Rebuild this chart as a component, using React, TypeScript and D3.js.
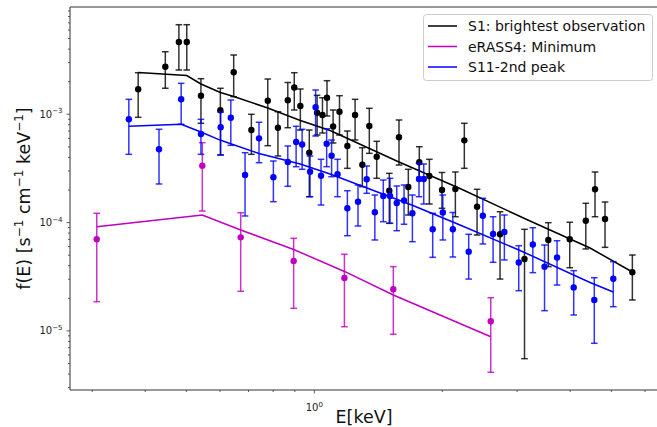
import React from 'react';
import * as d3 from 'd3';

// ---------- data (E in keV, f in s^-1 cm^-1 keV^-1) ----------
const s1E = [0.385, 0.446, 0.480, 0.501, 0.541, 0.601, 0.646, 0.711, 0.777, 0.821, 0.866, 0.897, 0.927, 0.973, 1.015, 1.045, 1.071, 1.107, 1.146, 1.196, 1.247, 1.297, 1.347, 1.402, 1.501, 1.582, 1.664, 1.766, 1.865, 1.997, 2.147, 2.254, 2.415, 2.735, 3.123, 3.553, 3.99, 4.353, 4.576, 4.831, 5.602];
const s1F = [1.701e-3, 2.751e-3, 4.652e-3, 4.652e-3, 1.485e-3, 1.089e-3, 2.442e-3, 0.716e-3, 1.335e-3, 0.752e-3, 1.349e-3, 1.768e-3, 1.193e-3, 0.442e-3, 1.035e-3, 0.985e-3, 1.423e-3, 0.772e-3, 1.057e-3, 0.510e-3, 0.985e-3, 0.3424e-3, 0.780e-3, 0.406e-3, 0.197e-3, 0.613e-3, 0.2132e-3, 0.3603e-3, 0.2693e-3, 0.200e-3, 0.2043e-3, 0.575e-3, 0.1402e-3, 0.078e-3, 0.0461e-3, 0.0691e-3, 0.0701e-3, 0.1041e-3, 0.203e-3, 0.1079e-3, 0.0348e-3];
const s1Hi = [2.421e-3, 3.784e-3, 6.72e-3, 6.72e-3, 2.132e-3, 1.739e-3, 3.528e-3, 1.0e-3, 2.118e-3, 1.057e-3, 1.966e-3, 2.421e-3, 1.713e-3, 0.716e-3, 1.498e-3, 1.423e-3, 2.043e-3, 1.096e-3, 1.485e-3, 0.701e-3, 1.375e-3, 0.4915e-3, 1.136e-3, 0.563e-3, 0.285e-3, 0.886e-3, 0.3105e-3, 0.502e-3, 0.3841e-3, 0.2902e-3, 0.2933e-3, 0.826e-3, 0.203e-3, 0.126e-3, 0.0867e-3, 0.0998e-3, 0.1007e-3, 0.1507e-3, 0.2933e-3, 0.1549e-3, 0.0502e-3];
const s1Lo = [0.938e-3, 1.739e-3, 2.565e-3, 2.565e-3, 0.826e-3, 0.421e-3, 1.454e-3, 0.427e-3, 0.513e-3, 0.412e-3, 0.752e-3, 1.096e-3, 0.716e-3, 0.1734e-3, 0.644e-3, 0.672e-3, 0.965e-3, 0.543e-3, 0.644e-3, 0.317e-3, 0.579e-3, 0.2146e-3, 0.436e-3, 0.2564e-3, 0.0985e-3, 0.340e-3, 0.1175e-3, 0.2564e-3, 0.1485e-3, 0.1355e-3, 0.1133e-3, 0.317e-3, 0.0768e-3, 0.0301e-3, 0.00554e-3, 0.0392e-3, 0.0383e-3, 0.0571e-3, 0.1133e-3, 0.0591e-3, 0.0193e-3];
const s1ModelE = [0.385, 0.501, 0.541, 0.601, 0.646, 0.777, 0.927, 1.089, 1.582, 2.202, 3.123, 4.454, 5.602];
const s1ModelF = [2.432e-3, 2.282e-3, 1.905e-3, 1.590e-3, 1.46e-3, 1.143e-3, 0.877e-3, 0.7085e-3, 0.3627e-3, 0.2064e-3, 0.1091e-3, 0.0583e-3, 0.035e-3];

const eE = [0.3076, 0.545, 0.671, 0.894, 1.177, 1.534, 2.601];
const eF = [7.01e-5, 3.353e-4, 7.31e-5, 4.418e-5, 3.08e-5, 2.422e-5, 1.226e-5];
const eHi = [1.219e-4, 5.468e-4, 1.234e-4, 7.16e-5, 5.097e-5, 3.92e-5, 2.026e-5];
const eLo = [1.861e-5, 1.279e-4, 2.32e-5, 1.617e-5, 1.093e-5, 9.30e-6, 4.147e-6];
const eModelE = [0.3076, 0.545, 0.671, 0.894, 1.177, 1.534, 2.601];
const eModelF = [9.165e-5, 1.175e-4, 8.545e-5, 5.645e-5, 3.54e-5, 2.145e-5, 8.84e-6];

const s11E = [0.366, 0.431, 0.486, 0.541, 0.602, 0.636, 0.687, 0.741, 0.801, 0.866, 0.906, 0.936, 0.977, 1.007, 1.037, 1.069, 1.098, 1.134, 1.196, 1.267, 1.328, 1.388, 1.453, 1.507, 1.563, 1.626, 1.701, 1.763, 1.809, 1.899, 2.006, 2.118, 2.308, 2.492, 2.634, 2.800, 3.027, 3.267, 3.481, 3.725, 4.077, 4.558, 5.052];
const s11F = [0.899e-3, 0.475e-3, 1.375e-3, 0.658e-3, 0.759e-3, 0.930e-3, 0.2751e-3, 0.600e-3, 0.2626e-3, 0.3627e-3, 0.555e-3, 0.526e-3, 0.2951e-3, 1.163e-3, 0.2705e-3, 0.535e-3, 0.4147e-3, 0.2793e-3, 0.1355e-3, 0.1556e-3, 0.2511e-3, 0.1245e-3, 0.176e-3, 0.176e-3, 0.1517e-3, 0.160e-3, 0.1219e-3, 0.2527e-3, 0.2527e-3, 0.0867e-3, 0.124e-3, 0.0867e-3, 0.0539e-3, 0.1158e-3, 0.0785e-3, 0.0819e-3, 0.0428e-3, 0.0628e-3, 0.0392e-3, 0.0476e-3, 0.0252e-3, 0.0193e-3, 0.0303e-3];
const s11Hi = [1.375e-3, 0.727e-3, 1.932e-3, 0.899e-3, 1.05e-3, 1.355e-3, 0.442e-3, 0.844e-3, 0.3705e-3, 0.510e-3, 0.775e-3, 0.727e-3, 0.412e-3, 1.676e-3, 0.3841e-3, 0.736e-3, 0.579e-3, 0.3841e-3, 0.197e-3, 0.2224e-3, 0.3332e-3, 0.1798e-3, 0.2474e-3, 0.2564e-3, 0.2178e-3, 0.2224e-3, 0.1798e-3, 0.3528e-3, 0.3476e-3, 0.1219e-3, 0.1798e-3, 0.124e-3, 0.078e-3, 0.1677e-3, 0.1133e-3, 0.1175e-3, 0.0612e-3, 0.0897e-3, 0.0621e-3, 0.068e-3, 0.036e-3, 0.031e-3, 0.0436e-3];
const s11Lo = [0.427e-3, 0.2273e-3, 0.809e-3, 0.427e-3, 0.421e-3, 0.517e-3, 0.1151e-3, 0.3573e-3, 0.156e-3, 0.2164e-3, 0.3282e-3, 0.3105e-3, 0.1734e-3, 0.630e-3, 0.1454e-3, 0.3282e-3, 0.2653e-3, 0.1734e-3, 0.0757e-3, 0.0930e-3, 0.1864e-3, 0.0691e-3, 0.1019e-3, 0.0985e-3, 0.0842e-3, 0.0965e-3, 0.0666e-3, 0.1734e-3, 0.1485e-3, 0.0478e-3, 0.0691e-3, 0.0481e-3, 0.0301e-3, 0.0635e-3, 0.043e-3, 0.0452e-3, 0.0235e-3, 0.0345e-3, 0.01537e-3, 0.0265e-3, 0.01402e-3, 0.00768e-3, 0.01673e-3];
const s11ModelE = [0.366, 0.486, 0.541, 0.602, 0.741, 0.926, 1.089, 1.695, 2.202, 3.048, 4.454, 5.052];
const s11ModelF = [0.775e-3, 0.809e-3, 0.6865e-3, 0.575e-3, 0.4345e-3, 0.3476e-3, 0.281e-3, 0.1454e-3, 0.095e-3, 0.0553e-3, 0.028e-3, 0.02287e-3];

const seriesNames = ['S1: brightest observation', 'eRASS4: Minimum', 'S11-2nd peak'];
const seriesColors = ['#000000', '#bf00bf', '#0000ff'];

const xLimits = [0.2661, 6.507];
const yLimits = [2.846e-6, 9.79e-3];
const xMajorTicks = [1];
const yMajorTicks = [1e-5, 1e-4, 1e-3];
const yMajorExp = ['−5', '−4', '−3'];

const FONT = 'DejaVu Sans, sans-serif';

export default function App() {
  const W = 657, H = 427;
  const L = 70, T = 7, R = 660, B = 390;
  const x = d3.scaleLog().domain(xLimits).range([L, R]);
  const y = d3.scaleLog().domain(yLimits).range([B, T]);
  const line = d3.line<[number, number]>().x(d => x(d[0])).y(d => y(d[1]));

  const series = [
    { E: s1E, F: s1F, hi: s1Hi, lo: s1Lo, mE: s1ModelE, mF: s1ModelF },
    { E: eE, F: eF, hi: eHi, lo: eLo, mE: eModelE, mF: eModelF },
    { E: s11E, F: s11F, hi: s11Hi, lo: s11Lo, mE: s11ModelE, mF: s11ModelF },
  ].map((s, i) => ({ ...s, name: seriesNames[i], color: seriesColors[i] }));

  // minor ticks
  const xMinor: number[] = [];
  for (let k = -1; k <= 0; k++) for (let m = 2; m <= 9; m++) {
    const v = m * Math.pow(10, k);
    if (v >= xLimits[0] && v <= xLimits[1]) xMinor.push(v);
  }
  const yMinor: number[] = [];
  for (let k = -6; k <= -3; k++) for (let m = 2; m <= 9; m++) {
    const v = m * Math.pow(10, k);
    if (v >= yLimits[0] && v <= yLimits[1]) yMinor.push(v);
  }

  const cap = 3.3;
  const legendY = [26, 46.5, 67];

  return (
    <svg width={W} height={H} style={{ position: 'absolute', left: 0, top: 0, background: '#fff' }} fontFamily={FONT}>
      <rect x={0} y={0} width={W} height={H} fill="#fff" />
      {/* series */}
      {series.map((s, si) => (
        <g key={si}>
          <path d={line(s.mE.map((e, i) => [e, s.mF[i]] as [number, number])) || ''} fill="none" stroke={s.color} strokeWidth={1.5} />
          {s.E.map((e, i) => {
            const cx = x(e);
            return (
              <g key={i} stroke={s.color} strokeWidth={1.5} strokeOpacity={0.8}>
                <line x1={cx} x2={cx} y1={y(s.hi[i])} y2={y(s.lo[i])} />
                <line x1={cx - cap} x2={cx + cap} y1={y(s.hi[i])} y2={y(s.hi[i])} />
                <line x1={cx - cap} x2={cx + cap} y1={y(s.lo[i])} y2={y(s.lo[i])} />
              </g>
            );
          })}
          {s.E.map((e, i) => (
            <circle key={'c' + i} cx={x(e)} cy={y(s.F[i])} r={3.2} fill={s.color} />
          ))}
        </g>
      ))}

      {/* axes frame */}
      <g stroke="#333" strokeWidth={1} fill="none">
        <line x1={L} x2={L} y1={T} y2={B} />
        <line x1={L} x2={R} y1={T} y2={T} />
        <line x1={L} x2={R} y1={B} y2={B} />
        <line x1={R} x2={R} y1={T} y2={B} />
      </g>

      {/* ticks */}
      <g stroke="#333" strokeWidth={0.8}>
        {xMajorTicks.map((t, i) => <line key={'xM' + i} x1={x(t)} x2={x(t)} y1={B} y2={B + 3.5} />)}
        {xMinor.map((t, i) => <line key={'xm' + i} x1={x(t)} x2={x(t)} y1={B} y2={B + 2} />)}
        {yMajorTicks.map((t, i) => <line key={'yM' + i} x1={L - 3.5} x2={L} y1={y(t)} y2={y(t)} />)}
        {yMinor.map((t, i) => <line key={'ym' + i} x1={L - 2} x2={L} y1={y(t)} y2={y(t)} />)}
      </g>
      {xMajorTicks.map((t, i) => (
        <text key={'xl' + i} x={x(t)} y={411} fontSize={10} textAnchor="middle" fill="#222">
          10<tspan dy={-4.5} fontSize={7}>0</tspan>
        </text>
      ))}
      {yMajorTicks.map((t, i) => (
        <text key={'yl' + i} x={62.5} y={y(t) + 3.6} fontSize={10} textAnchor="end" fill="#222">
          10<tspan dy={-4.5} fontSize={7}>{yMajorExp[i]}</tspan>
        </text>
      ))}

      {/* axis labels */}
      <text x={364} y={422.5} fontSize={17.5} textAnchor="middle" fill="#111">E[keV]</text>
      <text transform="translate(29.5,198.5) rotate(-90)" fontSize={17.5} textAnchor="middle" fill="#111">
        f(E) [s<tspan dy={-7} fontSize={12}>−1</tspan><tspan dy={7}> cm</tspan><tspan dy={-7} fontSize={12}>−1</tspan><tspan dy={7}> keV</tspan><tspan dy={-7} fontSize={12}>−1</tspan><tspan dy={7}>]</tspan>
      </text>

      {/* legend */}
      <rect x={423.5} y={14.5} width={229} height={66} rx={3} fill="#fff" fillOpacity={0.8} stroke="#ccc" strokeWidth={1} />
      {series.map((s, i) => (
        <g key={'lg' + i}>
          <line x1={428} x2={457} y1={legendY[i]} y2={legendY[i]} stroke={s.color} strokeWidth={1.5} />
          <text x={468} y={legendY[i] + 5} fontSize={14} fill="#111">{s.name}</text>
        </g>
      ))}
    </svg>
  );
}
